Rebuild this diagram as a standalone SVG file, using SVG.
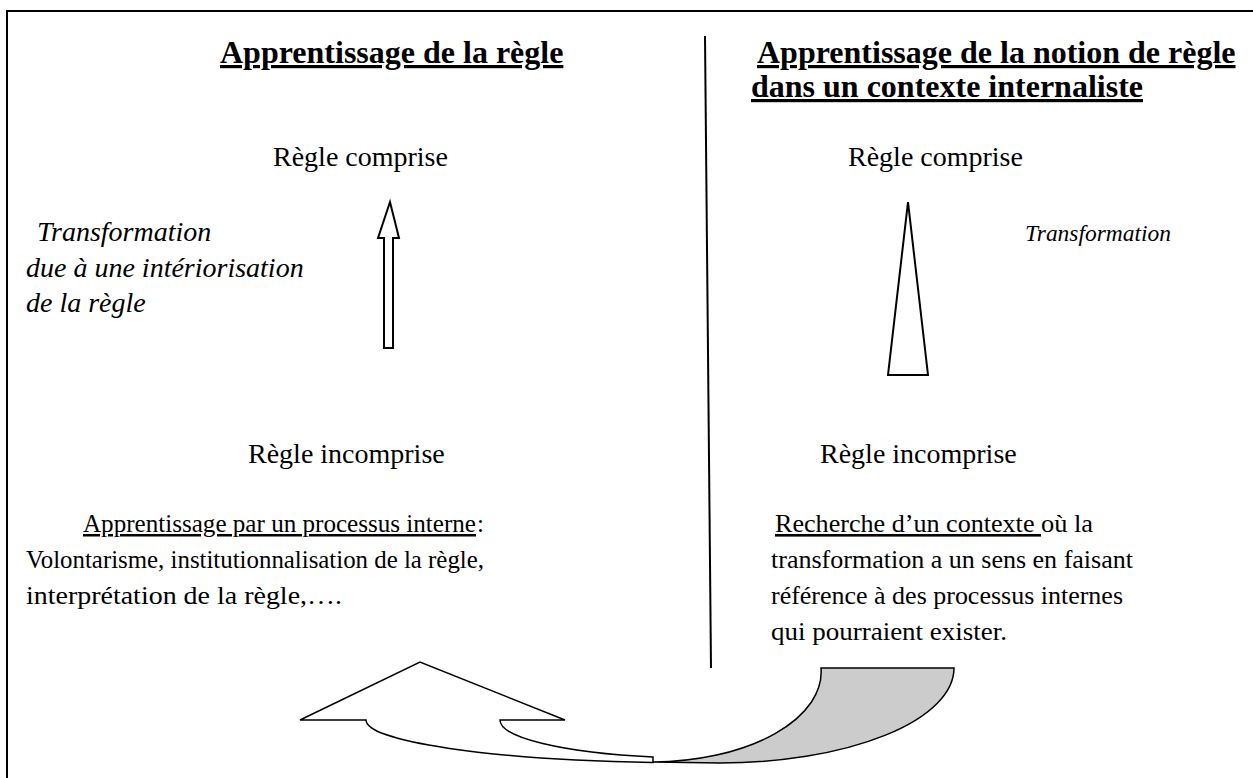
<svg xmlns="http://www.w3.org/2000/svg" width="1253" height="778" viewBox="0 0 1253 778">
<style>
.t{font-family:'Liberation Serif','DejaVu Serif',serif;font-size:28px;fill:#000}
.b{font-weight:bold;font-size:32px}
.i{font-style:italic}
.l{font-size:25px}
.r{font-size:26px}
.u{text-decoration:underline}
.ln{stroke:#000;stroke-width:2;fill:none}
.sh{stroke:#000;stroke-width:2;fill:#fff;stroke-linejoin:miter}
</style>
<rect width="1253" height="778" fill="#fff"/>
<g id="frame">
<path class="ln" d="M7,778 L7,11 L1253,11"/>
<path class="ln" d="M705,36 L711,668" stroke-width="1.5"/>
</g>
<g id="title-left"><text class="t b u" x="220" y="63">Apprentissage de la règle</text></g>
<g id="title-right">
<text class="t b u" x="757" y="63">Apprentissage de la notion de règle</text>
<text class="t b u" x="751" y="97">dans un contexte internaliste</text>
</g>
<g id="left-top"><text class="t" x="273" y="166">Règle comprise</text></g>
<g id="right-top"><text class="t" x="848" y="166">Règle comprise</text></g>
<g id="left-transformation">
<text class="t i" x="37" y="241">Transformation</text>
<text class="t i" x="26" y="277">due à une intériorisation</text>
<text class="t i" x="26" y="312">de la règle</text>
</g>
<g id="right-transformation"><text class="t i" x="1025" y="241" style="font-size:24px" textLength="146" lengthAdjust="spacingAndGlyphs">Transformation</text></g>
<g id="left-bottom"><text class="t" x="248" y="463">Règle incomprise</text></g>
<g id="right-bottom"><text class="t" x="820" y="463">Règle incomprise</text></g>
<g id="left-process">
<text class="t l u" x="83" y="532" textLength="393" lengthAdjust="spacingAndGlyphs">Apprentissage par un processus interne</text>
<text class="t l" x="477" y="532">:</text>
<text class="t l" x="26" y="568" textLength="458" lengthAdjust="spacingAndGlyphs">Volontarisme, institutionnalisation de la règle,</text>
<text class="t l" x="26" y="604" textLength="316" lengthAdjust="spacingAndGlyphs">interprétation de la règle,….</text>
</g>
<g id="right-process">
<text class="t r u" x="775" y="532" xml:space="preserve" textLength="266" lengthAdjust="spacingAndGlyphs">Recherche d’un contexte </text>
<text class="t r" x="1041" y="532" textLength="52" lengthAdjust="spacingAndGlyphs">où la</text>
<text class="t r" x="771" y="568" textLength="362" lengthAdjust="spacingAndGlyphs">transformation a un sens en faisant</text>
<text class="t r" x="771" y="604" textLength="352" lengthAdjust="spacingAndGlyphs">référence à des processus internes</text>
<text class="t r" x="771" y="640" textLength="236" lengthAdjust="spacingAndGlyphs">qui pourraient exister.</text>
</g>
<g id="connectors">
<path class="sh" d="M390,202 L399,238 L393,238 L393,348 L384,348 L384,238 L378,238 Z"/>
<path class="sh" d="M908,202 L928,375 L888,375 Z"/>
<path d="M821,668 L954,668 A234,95 0 0 1 720,763 L653,762 A170,90 0 0 0 821,668 Z" fill="#cccccc" stroke="#000" stroke-width="1.5"/>
<path d="M300,720 L420,662 L565,720 L500,720 A200,38 0 0 0 653,757 L653,762.5 A334,43 0 0 1 366,720 Z" fill="#fff" stroke="#000" stroke-width="1.5"/>
</g>
</svg>
